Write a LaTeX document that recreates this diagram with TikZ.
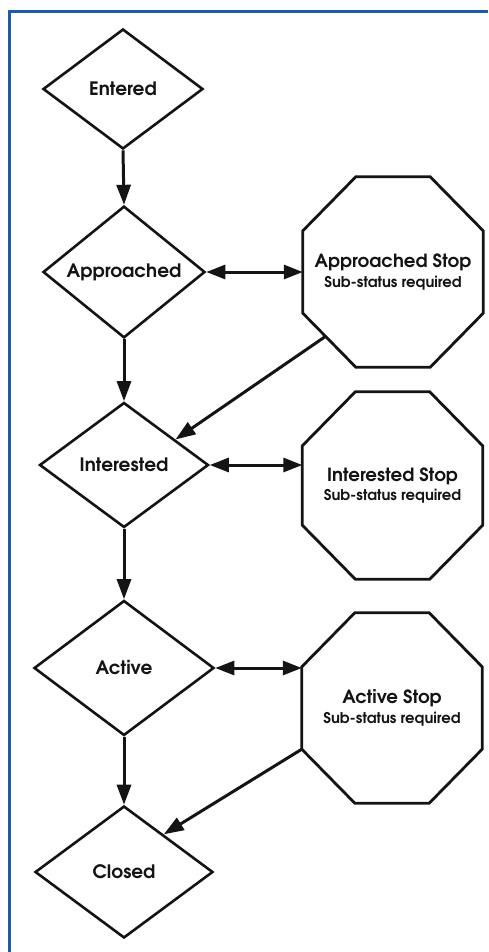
\documentclass[tikz,border=0pt]{standalone}
\usepackage{fontspec}
\setmainfont{TeX Gyre Adventor}
\usetikzlibrary{shapes.geometric,arrows.meta,calc}
\definecolor{frameblue}{RGB}{28,92,172}
\definecolor{ink}{RGB}{20,20,20}
\newcommand\stoptitle[1]{{\bfseries\fontsize{18.2}{19}\selectfont #1}}
\newcommand\stopsub[1]{{\bfseries\fontsize{14.8}{19}\selectfont #1}}
\newcommand\drawocto[1]{%
  \draw[shapeline] ([xshift=53pt]#1.north west) -- ([xshift=-53pt]#1.north east)
    -- ([yshift=-54pt]#1.north east) -- ([yshift=54pt]#1.south east)
    -- ([xshift=-53pt]#1.south east) -- ([xshift=53pt]#1.south west)
    -- ([yshift=54pt]#1.south west) -- ([yshift=-54pt]#1.north west) -- cycle;}
\begin{document}
\begin{tikzpicture}[x=1pt,y=-1pt,
  shapeline/.style={draw=ink,line width=2.8pt,line join=miter},
  dia/.style={diamond,draw=ink,line width=2.6pt,inner sep=0pt,text=ink,
    font=\bfseries\fontsize{18.5}{20}\selectfont},
  oct/.style={rectangle,inner sep=0pt,align=center,text=ink,
    font=\fontsize{14.8}{19.5}\selectfont,
    minimum width=180,minimum height=190},
  conn/.style={draw=ink,line width=3pt,-{Triangle[length=20pt,width=14pt]}},
  bi/.style={draw=ink,line width=3pt,
    {Triangle[length=19pt,width=14pt]}-{Triangle[length=19pt,width=14pt]}}
]
\fill[white] (0,0) rectangle (488,952);
\useasboundingbox (0,0) rectangle (488,952);
\draw[frameblue,line width=3pt] (9.5,952) -- (9.5,11.5) -- (488,11.5);

% diamonds
\node[dia,minimum width=160,minimum height=120] (entered) at (123,89) {Entered};
\node[dia,minimum width=162,minimum height=125] (appr) at (124,272) {Approached};
\node[dia,minimum width=169,minimum height=125] (int) at (124,465) {Interested};
\node[dia,minimum width=180,minimum height=135] (act) at (124,668) {Active};
\node[dia,minimum width=178,minimum height=132] (closed) at (124,872) {Closed};

% octagons
\node[oct] (astop) at (393,272) {\stoptitle{Approached Stop}\\\stopsub{Sub-status required}};
\node[oct,minimum height=187] (istop) at (392.5,485.5) {\stoptitle{Interested Stop}\\\stopsub{Sub-status required}};
\node[oct] (acstop) at (392,708) {\stoptitle{Active Stop}\\\stopsub{Sub-status required}};
\drawocto{astop}
\drawocto{istop}
\drawocto{acstop}

\coordinate (astopout) at ($(astop.south west)+(23,-31)$);
\coordinate (acstopout) at ($(acstop.south west)+(0,-54)$);

% connectors
\draw[conn] (entered.south) -- (appr.north);
\draw[conn] (appr.south) -- (int.north);
\draw[conn] (int.south) -- (act.north);
\draw[conn] (act.south) -- (closed.north);
\draw[bi] (appr.east) -- (appr.east -| astop.west);
\draw[bi] (int.east) -- (int.east -| istop.west);
\draw[bi] (act.east) -- (act.east -| acstop.west);
\draw[conn] (astopout) -- ($(int.north)!0.6!(int.east)$);
\draw[conn] (acstopout) -- ($(closed.north)!0.44!(closed.east)$);
\end{tikzpicture}
\end{document}
